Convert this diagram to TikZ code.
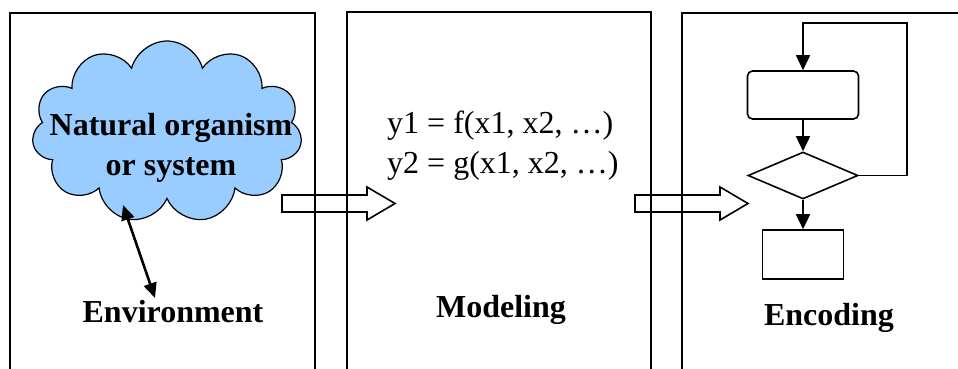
\documentclass[tikz,border=0pt]{standalone}
\usepackage{fontspec}
\setmainfont{Liberation Serif}
\usetikzlibrary{shapes.symbols, shapes.geometric, arrows.meta}
\definecolor{cloudblue}{RGB}{153,204,255}

\begin{document}
\begin{tikzpicture}[
  x=1pt, y=-1pt,
  panel/.style={line width=1.8pt},
  label/.style={font=\fontsize{32}{40}\selectfont\bfseries, inner sep=0pt},
  eqn/.style={font=\fontsize{32}{40}\selectfont, inner sep=0pt, anchor=base west},
  blockarrow/.style={draw, line width=1.6pt},
  box/.style={draw, line width=1.6pt, inner sep=0pt},
  flow/.style={line width=1.6pt, -{Triangle[length=15pt, width=14pt]}},
  both/.style={line width=2.6pt, {Triangle[length=15pt, width=13pt]}-{Triangle[length=15pt, width=13pt]}}
]
\useasboundingbox (0,0) rectangle (958,369);

% the three panels, open at the bottom
\draw[panel] (10,369) |- (315,13) -- (315,369);
\draw[panel] (347,369) |- (651,12) -- (651,369);
\draw[panel] (682,369) |- (958,13);

% environment
\node[cloud, cloud puffs=11, aspect=1.5, draw, fill=cloudblue, line width=1.2pt,
  minimum width=270pt, minimum height=182pt] (cloud) at (167,132) {};
\node[label, align=center] (organism) at (171,148) {Natural organism\\or system};
\node[label, anchor=base] (env) at (173,322) {Environment};
\coordinate (cloudfoot) at (123,205);
\coordinate (envtop) at (155,298);
\draw[both] (cloudfoot) -- (envtop);

% modeling
\node[eqn] (eq1) at (387,133) {y1 = f(x1, x2, …)};
\node[eqn] (eq2) at (387,173) {y2 = g(x1, x2, …)};
\node[label, anchor=base] (model) at (501,317) {Modeling};

% encoding
\node[box, rounded corners=5pt, minimum width=111pt, minimum height=48pt] (proc) at (803,95) {};
\node[box, diamond, minimum width=110pt, minimum height=47pt] (test) at (803,175.5) {};
\node[box, minimum width=81pt, minimum height=49pt] (out) at (803,254.5) {};
\coordinate (loop) at (907,23);
\draw[flow] (proc) -- (test);
\draw[flow] (test) -- (out);
\draw[flow] (test.east) -| (loop) -| (proc.north);
\node[label, anchor=base] (enc) at (829,325) {Encoding};

% hollow arrows between panels
\foreach \sx in {282,635}
  \draw[blockarrow] (\sx,195) -- ++(85,0) -- ++(0,-8) -- ++(28,16.5)
    -- ++(-28,16.5) -- ++(0,-8) -- ++(-85,0) -- cycle;
\end{tikzpicture}
\end{document}
